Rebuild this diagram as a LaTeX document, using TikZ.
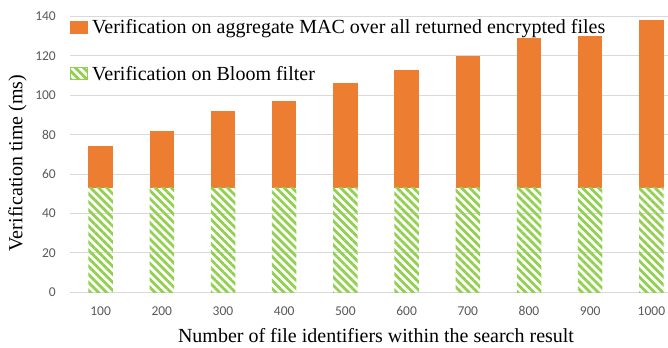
\documentclass[tikz,border=0pt]{standalone}
\usepackage{fontspec}
\setmainfont{Liberation Serif}
\newfontfamily\tickfont{Carlito}
\usepackage{tikz}
\usetikzlibrary{patterns.meta}
\definecolor{MacOrange}{HTML}{ED7D31}
\definecolor{BloomGreen}{HTML}{92D050}
\definecolor{GridGray}{HTML}{D9D9D9}
\definecolor{TickGray}{HTML}{595959}

\begin{document}
\begin{tikzpicture}[x=1bp,y=1bp,
    ticklabel/.style={text=TickGray, inner sep=0pt,
      font=\tickfont\fontsize{13.5bp}{15bp}\selectfont},
    bloomhatch/.style={pattern color=BloomGreen,
      pattern={Lines[angle=-45,distance=5.7bp,line width=2.8bp]}},
    titletext/.style={inner sep=0pt, font=\fontsize{20bp}{23bp}\selectfont}]
  \useasboundingbox (0,0) rectangle (668,347);
  % grid and y ticks
  \foreach \v in {0,20,...,140}{
    \draw[GridGray, line width=1bp] (70,{54.7+1.971*\v}) -- (668,{54.7+1.971*\v});
    \node[ticklabel, anchor=east] (ytick\v) at (56,{54.7+1.971*\v}) {\v};
  }
  % stacked bars
  \foreach \total [count=\i] in {74,82,92,97,106,113,120,129,130,138}{
    \pgfmathsetmacro\cx{39.4+61.2*\i}
    \pgfmathtruncatemacro\lab{100*\i}
    \fill[MacOrange] (\cx-12.25,{54.7+1.971*53}) rectangle (\cx+12.25,{54.7+1.971*\total});
    \fill[bloomhatch] (\cx-12.25,54.7) rectangle (\cx+12.25,{54.7+1.971*53});
    \node[ticklabel] (xtick\i) at (\cx,36) {\lab};
  }
  % legend
  \fill[MacOrange] (70,313) rectangle (88,326);
  \node[titletext, anchor=base west] (legmac) at (92,314)
    {Verification on aggregate MAC over all returned encrypted files};
  \draw[BloomGreen, bloomhatch] (70.5,267.5) rectangle (87.5,279.5);
  \node[titletext, anchor=base west] (legbloom) at (92,267)
    {Verification on Bloom filter};
  % axis titles
  \node[titletext, rotate=90] (ytitle) at (17.5,184) {Verification time (ms)};
  \node[titletext, anchor=base] (xtitle) at (376,5)
    {Number of file identifiers within the search result};
\end{tikzpicture}
\end{document}
